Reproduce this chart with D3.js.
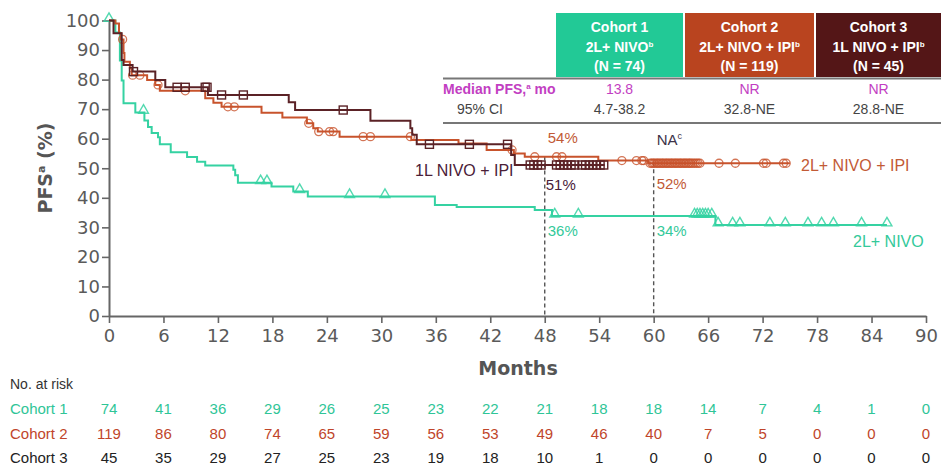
<!DOCTYPE html>
<html>
<head>
<meta charset="utf-8">
<script src="https://cdn.jsdelivr.net/npm/d3@7/dist/d3.min.js"></script>
<style>
  html, body { margin: 0; padding: 0; background: #fff; }
  svg { display: block; }
</style>
</head>
<body>
<svg id="chart" width="941" height="465"></svg>
<script>
// ---- Kaplan–Meier PFS data (months, % progression-free) ----
const monthTicks = [0, 6, 12, 18, 24, 30, 36, 42, 48, 54, 60, 66, 72, 78, 84, 90];
const pfsTicks = [0, 10, 20, 30, 40, 50, 60, 70, 80, 90, 100];

// Cohort 1: 2L+ NIVO
const steps1 = [[0, 100], [0.7, 95.9], [1.2, 86.5], [1.4, 79.7], [1.6, 72.0], [2.9, 68.9], [3.9, 66.2],
  [4.3, 64.0], [4.7, 61.9], [5.4, 60.5], [5.6, 58.1], [6.8, 55.4], [8.6, 53.8], [9.7, 52.2],
  [10.6, 50.9], [13.7, 49.5], [13.9, 47.6], [14.2, 45.1], [17.9, 43.8], [20.3, 42.1],
  [21.9, 40.4], [35.9, 37.6], [38.3, 36.9], [46.9, 35.9], [48.8, 33.8], [66.8, 30.8]];
const end1 = 85.7;
const censor1 = [0, 3.8, 16.7, 17.4, 21.0, 26.5, 30.4, 49.1, 51.7, 64.5, 64.8, 65.1, 65.4, 65.7, 66.0, 66.4,
  67.1, 68.7, 69.5, 72.8, 74.5, 77.0, 78.5, 79.8, 82.9, 85.7];

// Cohort 2: 2L+ NIVO + IPI
const steps2 = [[0, 100], [0.7, 99.0], [1.1, 95.8], [1.3, 93.6], [1.6, 89.0], [1.7, 86.0], [2.3, 83.8],
  [2.5, 81.5], [4.2, 79.9], [5.1, 78.2], [5.6, 76.2], [10.6, 73.7], [11.5, 72.2], [12.4, 70.8],
  [16.8, 68.8], [19.1, 67.2], [21.8, 65.2], [22.5, 63.5], [23.0, 62.4], [25.4, 60.7], [33.3, 59.6],
  [38.5, 58.4], [41.6, 56.2], [44.6, 55.0], [45.8, 53.9], [53.9, 52.6], [59.4, 51.7]];
const end2 = 75.0;
const censor2 = [1.5, 2.6, 3.4, 5.4, 8.4, 13.1, 13.8, 22.0, 23.1, 24.3, 24.7, 28.0, 28.8, 33.2, 44.4,
  46.9, 49.3, 49.9, 56.5, 58.1, 58.7, 58.9, 59.6, 59.8, 59.95, 60.1, 60.3, 60.45, 60.6, 60.8, 60.95,
  61.1, 61.3, 61.45, 61.6, 61.8, 61.95, 62.1, 62.3, 62.45, 62.6, 62.8, 62.95, 63.1, 63.3, 63.45,
  63.6, 63.8, 63.95, 64.1, 64.3, 64.5, 64.7, 64.9, 65.1, 67.2, 69.0, 72.1, 72.4, 74.3, 74.6];

// Cohort 3: 1L NIVO + IPI
const steps3 = [[0, 100], [0.5, 95.7], [1.4, 86.6], [1.6, 84.9], [2.6, 82.7], [5.1, 79.9], [6.2, 77.4],
  [10.9, 74.8], [19.8, 72.3], [20.5, 69.7], [28.8, 66.1], [33.2, 63.5], [33.4, 61.3], [33.9, 58.1],
  [44.3, 54.5], [44.7, 51.1]];
const end3 = 54.6;
const censor3 = [2.7, 7.5, 8.4, 10.6, 10.8, 12.4, 14.8, 25.8, 35.3, 39.7, 43.9, 46.4, 46.8, 47.2, 47.6,
  49.3, 49.7, 50.1, 50.5, 50.9, 51.3, 52.1, 52.5, 52.9, 53.3, 53.7, 54.1, 54.5];

// Numbers at risk
const riskCohorts = ["Cohort 1", "Cohort 2", "Cohort 3"];
const atRisk1 = [74, 41, 36, 29, 26, 25, 23, 22, 21, 18, 18, 14, 7, 4, 1, 0];
const atRisk2 = [119, 86, 80, 74, 65, 59, 56, 53, 49, 46, 40, 7, 5, 0, 0, 0];
const atRisk3 = [45, 35, 29, 27, 25, 23, 19, 18, 10, 1, 0, 0, 0, 0, 0, 0];

// Summary table
const headTitles = ["Cohort 1", "Cohort 2", "Cohort 3"];
const headArms = ["2L+ NIVO", "2L+ NIVO + IPI", "1L NIVO + IPI"];
const headN = ["(N = 74)", "(N = 119)", "(N = 45)"];
const medianPFS = ["13.8", "NR", "NR"];
const ci95 = ["4.7-38.2", "32.8-NE", "28.8-NE"];

// Landmark annotations
const landmarkMonths = [48, 60];
const landmark48 = [54, 51, 36];   // cohort 2, 3, 1
const landmark60 = [52, 34];       // cohort 2, 1

// ---- styling ----
const lineColors = ["#35d2a2", "#c8532c", "#5b2226"];
const headFill = ["#22c996", "#b9441f", "#541617"];
const textColors = ["#33c99a", "#c25a36", "#4a2038"];
const riskColors = ["#2fc597", "#c0452a", "#222222"];
const axisGrey = "#666666";
const tickFont = "'DejaVu Sans', sans-serif";
const textFont = "'Liberation Sans', Arial, sans-serif";

const svg = d3.select("#chart");
const x = d3.scaleLinear().domain([0, 90]).range([109, 926]);
const y = d3.scaleLinear().domain([0, 100]).range([316, 20.5]);

// Axes
const xAxis = svg.append("g").attr("transform", `translate(0,${y(0)})`)
  .call(d3.axisBottom(x).tickValues(monthTicks).tickSize(7).tickPadding(6).tickSizeOuter(0));
const yAxis = svg.append("g").attr("transform", `translate(${x(0)},0)`)
  .call(d3.axisLeft(y).tickValues(pfsTicks).tickSize(7).tickPadding(2).tickSizeOuter(0));
[xAxis, yAxis].forEach(g => {
  g.select(".domain").attr("stroke", axisGrey).attr("stroke-width", 2);
  g.selectAll(".tick line").attr("stroke", axisGrey).attr("stroke-width", 1.6);
  g.selectAll(".tick text").attr("fill", "#5a5a5a").style("font-family", tickFont).style("font-size", "18px");
});

// Axis titles
svg.append("text").attr("x", 518).attr("y", 375).attr("text-anchor", "middle")
  .style("font-family", tickFont).style("font-size", "19px").style("font-weight", "bold")
  .attr("fill", "#555").text("Months");
const yTitle = svg.append("text").attr("transform", "translate(52,168) rotate(-90)")
  .attr("text-anchor", "middle").style("font-family", tickFont).style("font-size", "19px")
  .style("font-weight", "bold").attr("fill", "#555");
yTitle.append("tspan").text("PFS");
yTitle.append("tspan").attr("dy", -7).style("font-size", "11px").text("a");
yTitle.append("tspan").attr("dy", 7).text(" (%)");

// Landmark dashed lines
const landmarkTop = [54, 52];
landmarkMonths.forEach((m, i) => {
  svg.append("line").attr("x1", x(m)).attr("x2", x(m)).attr("y1", y(landmarkTop[i])).attr("y2", y(0))
    .attr("stroke", "#555").attr("stroke-width", 1.4).attr("stroke-dasharray", "4,3");
});

// KM curves
function valueAt(steps, t) {
  let v = steps[0][1];
  for (const s of steps) { if (s[0] <= t) v = s[1]; }
  return v;
}
const stepLine = d3.line().x(d => x(d[0])).y(d => y(d[1])).curve(d3.curveStepAfter);
const cohorts = [
  { steps: steps1, end: end1, censor: censor1, shape: "tri" },
  { steps: steps2, end: end2, censor: censor2, shape: "circle" },
  { steps: steps3, end: end3, censor: censor3, shape: "square" }
];
// draw in order so that cohort 3 and 2 sit above cohort 1
[0, 1, 2].forEach(i => {
  const c = cohorts[i];
  const pts = c.steps.concat([[c.end, c.steps[c.steps.length - 1][1]]]);
  const g = svg.append("g");
  g.append("path").attr("d", stepLine(pts)).attr("fill", "none")
    .attr("stroke", lineColors[i]).attr("stroke-width", 2);
  const marks = g.selectAll(".m").data(c.censor).enter();
  if (c.shape === "tri") {
    marks.append("path")
      .attr("d", d3.symbol().type(d3.symbolTriangle).size(42))
      .attr("transform", d => `translate(${x(d)},${y(valueAt(c.steps, d)) - 2})`)
      .attr("fill", "none").attr("stroke", lineColors[i]).attr("stroke-width", 1.4).attr("opacity", 0.85);
  } else if (c.shape === "circle") {
    marks.append("circle").attr("cx", d => x(d)).attr("cy", d => y(valueAt(c.steps, d)))
      .attr("r", 4).attr("fill", "none").attr("stroke", lineColors[i]).attr("stroke-width", 1.3)
      .attr("opacity", 0.8);
  } else {
    marks.append("rect").attr("x", d => x(d) - 4).attr("y", d => y(valueAt(c.steps, d)) - 4)
      .attr("width", 8).attr("height", 8).attr("fill", "none")
      .attr("stroke", lineColors[i]).attr("stroke-width", 1.4);
  }
});

// Landmark labels
const lblStyle = sel => sel.style("font-family", textFont).style("font-size", "15px");
lblStyle(svg.append("text").attr("x", x(48) + 3).attr("y", 143).attr("fill", textColors[1]).text(landmark48[0] + "%"));
lblStyle(svg.append("text").attr("x", x(48) + 1).attr("y", 190).attr("fill", textColors[2]).text(landmark48[1] + "%"));
lblStyle(svg.append("text").attr("x", x(48) + 3).attr("y", 236).attr("fill", textColors[0]).text(landmark48[2] + "%"));
const na = lblStyle(svg.append("text").attr("x", x(60) + 3).attr("y", 145).attr("fill", "#3d3348"));
na.append("tspan").text("NA");
na.append("tspan").attr("dy", -6).style("font-size", "9px").text("c");
lblStyle(svg.append("text").attr("x", x(60) + 3).attr("y", 189).attr("fill", textColors[1]).text(landmark60[0] + "%"));
lblStyle(svg.append("text").attr("x", x(60) + 3).attr("y", 236).attr("fill", textColors[0]).text(landmark60[1] + "%"));

// Curve labels
const armStyle = sel => sel.style("font-family", textFont).style("font-size", "16px");
armStyle(svg.append("text").attr("x", 415).attr("y", 176).attr("fill", textColors[2]).text(headArms[2]));
armStyle(svg.append("text").attr("x", 801).attr("y", 171).attr("fill", textColors[1]).text(headArms[1]));
armStyle(svg.append("text").attr("x", 853).attr("y", 247).attr("fill", textColors[0]).text(headArms[0]));

// Summary table
const colX = [556, 685, 816];
const colW = [127, 129, 125];
const tbl = svg.append("g");
colX.forEach((cx, i) => {
  tbl.append("rect").attr("x", cx).attr("y", 13).attr("width", colW[i]).attr("height", 64).attr("fill", headFill[i]);
  const mid = cx + colW[i] / 2;
  const t = (yy, txt) => tbl.append("text").attr("x", mid).attr("y", yy).attr("text-anchor", "middle")
    .style("font-family", textFont).style("font-size", "14px").style("font-weight", "bold")
    .attr("fill", "#fff").text(txt);
  t(32, headTitles[i]);
  const arm = t(52, headArms[i]);
  arm.append("tspan").attr("dy", -5).style("font-size", "8px").text("b");
  t(71, headN[i]);
  tbl.append("text").attr("x", mid).attr("y", 94).attr("text-anchor", "middle")
    .style("font-family", textFont).style("font-size", "14px").attr("fill", "#c23ec2").text(medianPFS[i]);
  tbl.append("text").attr("x", mid).attr("y", 114).attr("text-anchor", "middle")
    .style("font-family", textFont).style("font-size", "14px").attr("fill", "#444").text(ci95[i]);
});
tbl.append("line").attr("x1", 443).attr("x2", 941).attr("y1", 78.5).attr("y2", 78.5).attr("stroke", "#777").attr("stroke-width", 2);
tbl.append("line").attr("x1", 443).attr("x2", 941).attr("y1", 123).attr("y2", 123).attr("stroke", "#777").attr("stroke-width", 2);
const med = tbl.append("text").attr("x", 443).attr("y", 94).style("font-family", textFont)
  .style("font-size", "14px").style("font-weight", "bold").attr("fill", "#c23ec2");
med.append("tspan").text("Median PFS,");
med.append("tspan").attr("dy", -5).style("font-size", "8px").text("a");
med.append("tspan").attr("dy", 5).text(" mo");
tbl.append("text").attr("x", 457).attr("y", 114).style("font-family", textFont)
  .style("font-size", "14px").attr("fill", "#444").text("95% CI");

// Numbers at risk
svg.append("text").attr("x", 10).attr("y", 389).style("font-family", textFont).style("font-size", "14px")
  .attr("fill", "#333").text("No. at risk");
const riskRows = [atRisk1, atRisk2, atRisk3];
const rowY = [414, 439, 463];
riskRows.forEach((row, i) => {
  svg.append("text").attr("x", 10).attr("y", rowY[i]).style("font-family", textFont).style("font-size", "15px")
    .attr("fill", riskColors[i]).text(riskCohorts[i]);
  svg.selectAll(null).data(row).enter().append("text")
    .attr("x", (d, j) => x(monthTicks[j])).attr("y", rowY[i]).attr("text-anchor", "middle")
    .style("font-family", textFont).style("font-size", "15px").attr("fill", riskColors[i]).text(d => d);
});
</script>
</body>
</html>
